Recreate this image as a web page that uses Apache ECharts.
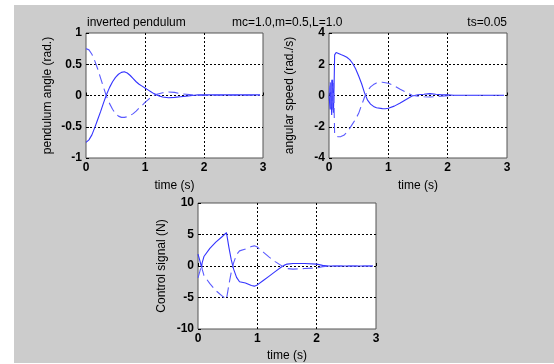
<!DOCTYPE html>
<html>
<head>
<meta charset="utf-8">
<script src="https://cdn.jsdelivr.net/npm/echarts@6/dist/echarts.min.js"></script>
<style>html,body{margin:0;padding:0;background:#fff}#c{width:554px;height:364px}</style>
</head>
<body>
<div id="c"></div>
<script>
// ---- data ----
const xTickLabels = ['0', '1', '2', '3'];
const angleSolid = [[0,-0.75],[0.05,-0.71],[0.1,-0.63],[0.15,-0.51],[0.2,-0.38],[0.25,-0.25],[0.3,-0.11],[0.35,0.02],[0.4,0.13],[0.45,0.22],[0.5,0.29],[0.55,0.34],[0.6,0.37],[0.65,0.38],[0.7,0.36],[0.75,0.32],[0.8,0.27],[0.85,0.22],[0.9,0.18],[0.95,0.15],[1.0,0.12],[1.05,0.09],[1.1,0.06],[1.15,0.03],[1.2,0.01],[1.25,-0.01],[1.3,-0.025],[1.4,-0.035],[1.5,-0.03],[1.6,-0.02],[1.7,-0.01],[1.8,0.0],[1.9,0.01],[2.0,0.01],[2.5,0.01],[2.95,0.01]];
const angleDashed = [[0,0.75],[0.05,0.73],[0.1,0.66],[0.15,0.55],[0.2,0.42],[0.25,0.27],[0.3,0.12],[0.35,-0.02],[0.4,-0.13],[0.45,-0.22],[0.5,-0.29],[0.55,-0.33],[0.6,-0.35],[0.65,-0.35],[0.7,-0.34],[0.75,-0.32],[0.8,-0.29],[0.85,-0.25],[0.9,-0.2],[0.95,-0.16],[1.0,-0.11],[1.05,-0.07],[1.1,-0.03],[1.15,0.0],[1.2,0.02],[1.3,0.045],[1.4,0.055],[1.5,0.05],[1.6,0.03],[1.7,0.02],[1.8,0.01],[1.9,0.0],[2.0,0.005],[2.5,0.005],[2.95,0.005]];
const speedSolid = [[0,0],[0.02,-0.9],[0.03,0.8],[0.045,-1.25],[0.06,1.0],[0.075,-1.1],[0.085,0.5],[0.095,2.6],[0.12,2.75],[0.2,2.62],[0.25,2.55],[0.3,2.45],[0.35,2.3],[0.4,2.05],[0.45,1.7],[0.5,1.25],[0.55,0.75],[0.6,0.15],[0.65,-0.3],[0.7,-0.55],[0.75,-0.7],[0.8,-0.78],[0.9,-0.84],[0.95,-0.85],[1.0,-0.82],[1.1,-0.68],[1.2,-0.48],[1.3,-0.25],[1.4,-0.03],[1.5,0.05],[1.6,0.08],[1.7,0.12],[1.8,0.08],[1.9,0.05],[2.0,0.04],[2.1,0.02],[2.95,0.02]];
const speedDashed = [[0,0],[0.02,0.9],[0.03,-0.8],[0.045,1.0],[0.06,-0.9],[0.075,0.8],[0.085,-0.6],[0.095,-2.5],[0.12,-2.62],[0.15,-2.64],[0.2,-2.63],[0.25,-2.55],[0.3,-2.35],[0.35,-2.1],[0.4,-1.8],[0.45,-1.5],[0.5,-1.14],[0.55,-0.6],[0.6,-0.1],[0.65,0.3],[0.7,0.55],[0.75,0.7],[0.8,0.8],[0.9,0.85],[0.95,0.82],[1.0,0.78],[1.1,0.62],[1.2,0.4],[1.3,0.2],[1.4,0.02],[1.5,-0.05],[1.6,-0.08],[1.7,-0.1],[1.8,-0.07],[1.9,-0.04],[2.0,-0.02],[2.1,0.0],[2.95,0.0]];
const controlSolid = [[0,1.9],[0.03,0.9],[0.06,-0.2],[0.07,0.5],[0.1,1.5],[0.2,2.8],[0.3,3.8],[0.4,4.6],[0.48,5.3],[0.52,3.0],[0.56,1.0],[0.6,-0.5],[0.65,-1.8],[0.7,-2.5],[0.8,-2.7],[0.9,-3.1],[0.95,-3.2],[1.0,-3.0],[1.1,-2.3],[1.2,-1.6],[1.3,-0.9],[1.4,-0.2],[1.45,0.1],[1.5,0.3],[1.6,0.4],[1.8,0.4],[2.0,0.3],[2.1,0.1],[2.2,0.0],[2.95,0.0]];
const controlDashed = [[0,-1.9],[0.03,-0.9],[0.06,0.2],[0.07,-0.5],[0.1,-1.5],[0.2,-2.8],[0.3,-3.9],[0.4,-4.7],[0.48,-5.3],[0.52,-3.0],[0.56,-1.0],[0.6,0.5],[0.65,1.8],[0.7,2.4],[0.8,2.7],[0.9,3.1],[0.95,3.2],[1.0,3.0],[1.1,2.2],[1.2,1.4],[1.3,0.7],[1.4,0.1],[1.45,-0.2],[1.5,-0.4],[1.6,-0.5],[1.8,-0.4],[2.0,-0.3],[2.1,-0.1],[2.2,0.0],[2.95,0.0]];
const yRanges = [[-1, 1, 0.5], [-4, 4, 2], [-10, 10, 5]];
const yNames = ['pendulum angle (rad.)', 'angular speed (rad./s)', 'Control signal (N)'];
const xName = 'time (s)';
const titleLeft = 'inverted pendulum';
const titleMid = 'mc=1.0,m=0.5,L=1.0';
const titleRight = 'ts=0.05';

// ---- chart ----
const FONT = 'Liberation Sans, Arial, sans-serif';
const LINE = '#3434ff';
const grids = [
  {left: 86, top: 33, width: 177, height: 125},
  {left: 329, top: 33, width: 178, height: 125},
  {left: 198, top: 203, width: 178, height: 126}
];
const yGaps = [32, 33, 30];
const xGaps = [22, 22, 21];
const chart = echarts.init(document.getElementById('c'), null, {renderer: 'canvas'});
const split = {show: true, showMinLine: false, showMaxLine: false, lineStyle: {color: '#000', width: 1, type: [2, 2]}};
const tick = {show: true, inside: true, length: 3, lineStyle: {color: '#000'}};
const lbl = {color: '#000', fontSize: 12, fontWeight: 'bold', fontFamily: FONT};
const option = {
  animation: false,
  backgroundColor: '#cccccc',
  grid: grids.map(g => Object.assign({show: true, backgroundColor: '#fff', borderColor: '#555', borderWidth: 1}, g)),
  xAxis: grids.map((g, i) => ({
    type: 'value', gridIndex: i, min: 0, max: 3, interval: 1,
    axisLine: {show: false}, axisTick: tick, splitLine: split,
    axisLabel: Object.assign({margin: 4, formatter: v => xTickLabels[Math.round(v)]}, lbl),
    name: xName, nameLocation: 'middle', nameGap: xGaps[i],
    nameTextStyle: {color: '#000', fontSize: 12, fontFamily: FONT}
  })),
  yAxis: grids.map((g, i) => ({
    type: 'value', gridIndex: i, min: yRanges[i][0], max: yRanges[i][1], interval: yRanges[i][2],
    axisLine: {show: false}, axisTick: tick, splitLine: split,
    axisLabel: Object.assign({margin: 4}, lbl),
    name: yNames[i], nameLocation: 'middle', nameGap: yGaps[i], nameRotate: 90,
    nameTextStyle: {color: '#000', fontSize: 12, fontFamily: FONT}
  })),
  series: [
    [angleSolid, 0, 'solid'], [angleDashed, 0, 'dash'],
    [speedSolid, 1, 'solid'], [speedDashed, 1, 'dash'],
    [controlSolid, 2, 'solid'], [controlDashed, 2, 'dash']
  ].map(([d, i, t]) => ({
    type: 'line', xAxisIndex: i, yAxisIndex: i, data: d, showSymbol: false, symbol: 'none',
    lineStyle: {color: t === 'solid' ? LINE : '#5a5aff', width: 1.1, type: t === 'solid' ? 'solid' : [10, 5]},
    clip: true
  })),
  graphic: [
    {type: 'rect', shape: {x: 0, y: 0, width: 14, height: 364}, style: {fill: '#fff'}, silent: true},
    {type: 'rect', shape: {x: 0, y: 0, width: 554, height: 5}, style: {fill: '#fff'}, silent: true},
    {type: 'rect', shape: {x: 0, y: 363, width: 554, height: 1}, style: {fill: '#fff'}, silent: true},
    {type: 'text', x: 87, y: 23, style: {text: titleLeft, fill: '#000', font: '12px ' + FONT, textVerticalAlign: 'middle'}},
    {type: 'text', x: 232, y: 23, style: {text: titleMid, fill: '#000', font: '12px ' + FONT, textVerticalAlign: 'middle'}},
    {type: 'text', x: 507, y: 23, style: {text: titleRight, fill: '#000', font: '12px ' + FONT, textAlign: 'right', textVerticalAlign: 'middle'}}
  ]
};
chart.setOption(option);
</script>
</body>
</html>
